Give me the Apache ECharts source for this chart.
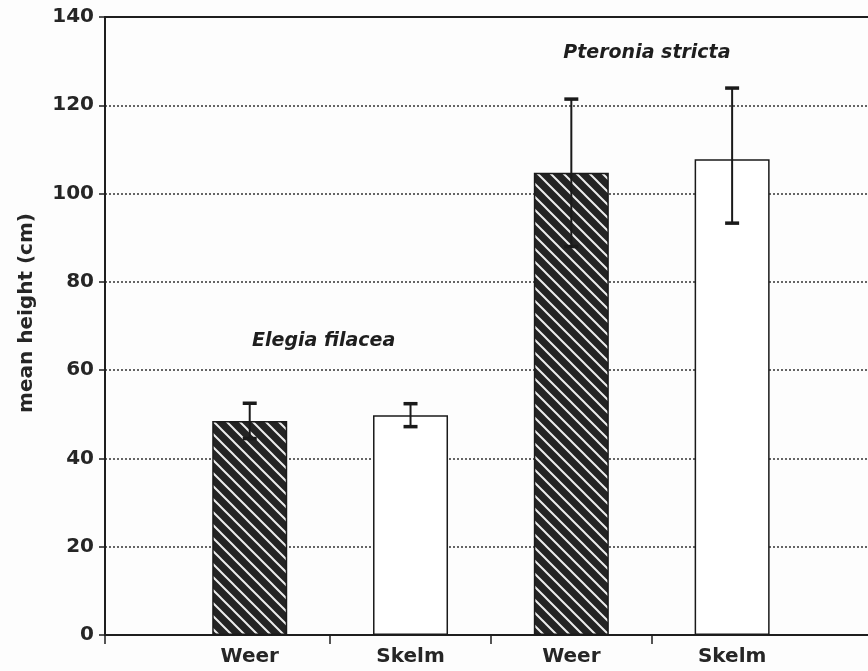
<!DOCTYPE html>
<html>
<head>
<meta charset="utf-8">
<style>
  html, body { margin: 0; padding: 0; background: #fdfdfd; }
  #chart { width: 868px; height: 671px; }
</style>
<script src="https://cdn.jsdelivr.net/npm/echarts@6/dist/echarts.min.js"></script>
</head>
<body>
<div id="chart"></div>
<script>
// Sites and species groups
const categories = ['Weer', 'Skelm', 'Weer', 'Skelm'];
const positions = [1, 2, 3, 4];
const meanHeight = [48.5, 49.8, 104.7, 107.8];
const errHigh = [52.5, 52.4, 121.4, 123.9];
const errLow = [44.5, 47.2, 88.0, 93.3];
const hatched = [true, false, true, false];
const yTicks = [0, 20, 40, 60, 80, 100, 120, 140];
const groupTicks = [0.1, 1.5, 2.5, 3.5];
const speciesNames = ['Elegia filacea', 'Pteronia stricta'];
const speciesPos = [[1.46, 66.5], [3.47, 131.8]];

// Diagonal hatch: dark fill with light stripes running top-left to bottom-right
function makeHatch() {
  const s = 13;
  const c = document.createElement('canvas');
  c.width = s; c.height = s;
  const g = c.getContext('2d');
  g.fillStyle = '#242424';
  g.fillRect(0, 0, s, s);
  g.strokeStyle = '#ececec';
  g.lineWidth = 2;
  g.beginPath();
  g.moveTo(-2, -2); g.lineTo(s + 2, s + 2);
  g.moveTo(-2 - s, -2); g.lineTo(2, s + 2);
  g.moveTo(s - 2, -2); g.lineTo(2 * s + 2, s + 2);
  g.stroke();
  return c;
}
const hatch = { image: makeHatch(), repeat: 'repeat' };

const chart = echarts.init(document.getElementById('chart'), null, { renderer: 'canvas' });

const barData = positions.map((p, i) => ({
  value: [p, meanHeight[i]],
  itemStyle: { color: hatched[i] ? hatch : '#ffffff' }
}));
const errData = positions.map((p, i) => [p, errLow[i], errHigh[i]]);

const font = 'DejaVu Sans';
const ink = '#1e1e1e';

chart.setOption({
  backgroundColor: '#fdfdfd',
  animation: false,
  grid: { left: 105, top: 17, bottom: 36, right: 0 },
  xAxis: [
    {
      type: 'value', min: 0.1, max: 4.845,
      axisLine: { show: true, lineStyle: { color: ink, width: 2 } },
      axisTick: { show: true, length: 9, customValues: groupTicks,
        lineStyle: { color: ink, width: 1.5 } },
      axisLabel: {
        customValues: positions, margin: 12,
        formatter: v => categories[positions.indexOf(Math.round(v))] || '',
        fontFamily: font, fontWeight: 'bold', fontSize: 20, color: '#262626'
      },
      splitLine: { show: false }
    },
    {
      // top frame line
      type: 'value', position: 'top', min: 0.1, max: 4.845,
      axisLine: { show: true, lineStyle: { color: ink, width: 2 } },
      axisTick: { show: false }, axisLabel: { show: false }, splitLine: { show: false }
    }
  ],
  yAxis: {
    type: 'value', min: 0, max: 140, interval: 20,
    name: 'mean height (cm)', nameLocation: 'middle', nameGap: 68,
    nameTextStyle: { fontFamily: font, fontWeight: 'bold', fontSize: 20, color: '#262626',
      padding: [0, 0, 0, 26] },
    axisLine: { show: true, lineStyle: { color: ink, width: 2 } },
    axisTick: { show: true, length: 6, lineStyle: { color: ink, width: 1.5 } },
    axisLabel: {
      margin: 11, fontFamily: font, fontWeight: 'bold', fontSize: 20, color: '#262626',
      formatter: v => (yTicks.indexOf(v) >= 0 ? String(v) : '')
    },
    splitLine: { show: true, lineStyle: { color: '#333', width: 1.5, type: [2, 2] } }
  },
  series: [
    {
      type: 'bar', data: barData, barWidth: 75,
      itemStyle: { borderColor: '#1a1a1a', borderWidth: 1.5 }, z: 3
    },
    {
      type: 'custom', data: errData, z: 5,
      renderItem: function (params, api) {
        const x = api.value(0);
        const lo = api.coord([x, api.value(1)]);
        const hi = api.coord([x, api.value(2)]);
        const cap = 7;
        const style = { stroke: '#1a1a1a', lineWidth: 2 };
        const capStyle = { stroke: '#1a1a1a', lineWidth: 3.5 };
        return {
          type: 'group',
          children: [
            { type: 'line', shape: { x1: hi[0], y1: hi[1], x2: lo[0], y2: lo[1] }, style: style },
            { type: 'line', shape: { x1: hi[0] - cap, y1: hi[1], x2: hi[0] + cap, y2: hi[1] }, style: capStyle },
            { type: 'line', shape: { x1: lo[0] - cap, y1: lo[1], x2: lo[0] + cap, y2: lo[1] }, style: capStyle }
          ]
        };
      }
    },
    {
      type: 'scatter', symbolSize: 0, z: 6, silent: true,
      itemStyle: { opacity: 1 },
      data: speciesPos.map((p, i) => ({ value: p, name: speciesNames[i] })),
      label: {
        show: true, position: 'inside', formatter: p => p.name, opacity: 1,
        fontFamily: font, fontWeight: 'bold', fontStyle: 'italic', fontSize: 19, color: ink
      }
    }
  ]
});
</script>
</body>
</html>
